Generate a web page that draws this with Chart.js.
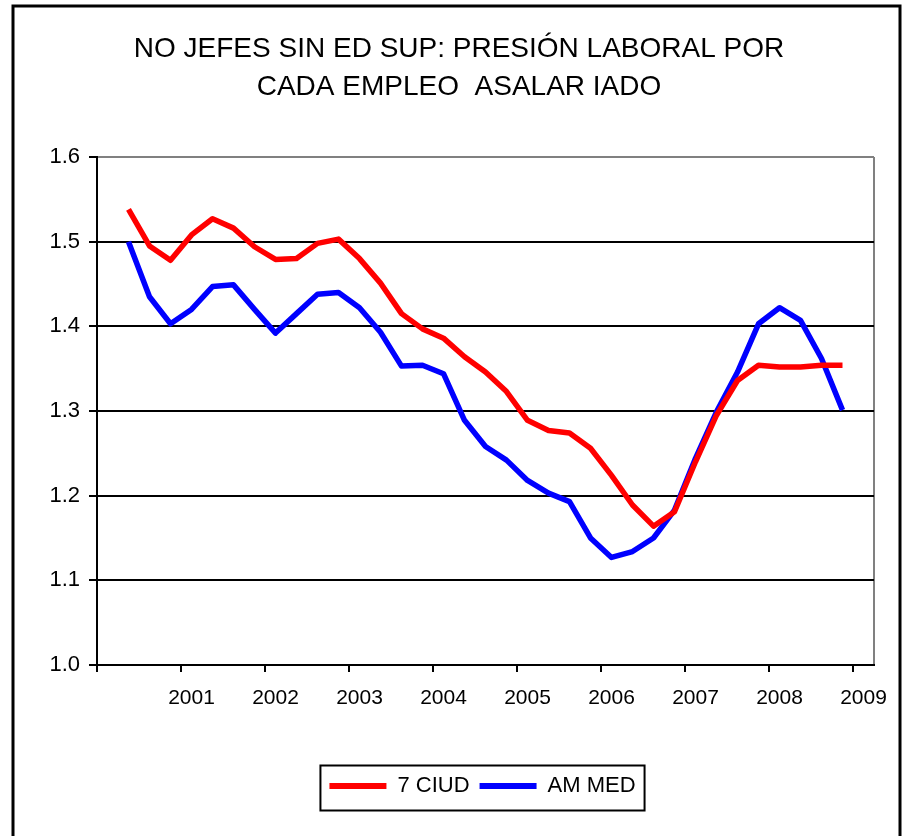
<!DOCTYPE html>
<html>
<head>
<meta charset="utf-8">
<script src="https://cdn.jsdelivr.net/npm/chart.js@4.4.1/dist/chart.umd.min.js"></script>
<style>
  html, body { margin: 0; padding: 0; background: #fff; }
  #wrap { width: 903px; height: 836px; position: relative; }
</style>
</head>
<body>
<div id="wrap"><canvas id="chart"></canvas></div>
<script>
// Categorías trimestrales (etiqueta solo en el primer trimestre de cada año)
const xLabels = ['', '', '', '', '2001', '', '', '', '2002', '', '', '', '2003', '', '', '', '2004', '', '', '',
                 '2005', '', '', '', '2006', '', '', '', '2007', '', '', '', '2008', '', '', '', '2009'];

// 7 ciudades
const ciud7 = [null, 1.538, 1.495, 1.478, 1.508, 1.527, 1.516, 1.494, 1.479, 1.480, 1.498, 1.503, 1.480,
               1.451, 1.415, 1.397, 1.386, 1.364, 1.346, 1.323, 1.289, 1.277, 1.274, 1.256, 1.224,
               1.189, 1.164, 1.181, 1.240, 1.295, 1.336, 1.354, 1.352, 1.352, 1.354, 1.354, null];

// Área metropolitana de Medellín
const amMed = [null, 1.500, 1.435, 1.403, 1.420, 1.447, 1.449, 1.420, 1.392, 1.415, 1.438, 1.440, 1.422,
               1.393, 1.353, 1.354, 1.344, 1.289, 1.258, 1.242, 1.218, 1.203, 1.193, 1.150, 1.127,
               1.134, 1.150, 1.183, 1.244, 1.299, 1.346, 1.403, 1.422, 1.407, 1.362, 1.301, null];

const seriesNames = ['7 CIUD', 'AM MED'];
const titleLines = ['NO JEFES SIN ED SUP: PRESIÓN LABORAL POR', 'CADA EMPLEO  ASALAR IADO'];

const FONT = "'Liberation Sans', Arial, sans-serif";

// Marco exterior y recuadro de la leyenda
const framePlugin = {
    id: 'frame',
    afterLayout(chart) {
        // la leyenda del original está un poco a la izquierda del centro del área
        chart.legend.left -= 3;
        chart.legend.right -= 3;
    },
    afterDraw(chart) {
        const ctx = chart.ctx;
        ctx.save();
        ctx.strokeStyle = '#000';
        ctx.lineWidth = 3;
        ctx.strokeRect(13, 6, 887, 900);

        const boxes = chart.legend.legendHitBoxes;
        if (boxes && boxes.length) {
            const first = boxes[0];
            const last = boxes[boxes.length - 1];
            const left = first.left - 9;
            const right = last.left + last.width + 9;
            const top = first.top - 9.5;
            const bottom = first.top + first.height + 13.5;
            ctx.lineWidth = 2;
            ctx.strokeRect(left, top, right - left, bottom - top);
        }
        ctx.restore();
    }
};

const ctx = document.getElementById('chart').getContext('2d');

new Chart(ctx, {
    type: 'line',
    data: {
        labels: xLabels,
        datasets: [{
            label: seriesNames[0],
            data: ciud7,
            borderColor: '#FF0000',
            backgroundColor: '#FF0000',
            borderWidth: 5.5,
            pointRadius: 0,
            tension: 0,
            borderJoinStyle: 'round'
        }, {
            label: seriesNames[1],
            data: amMed,
            borderColor: '#0000FF',
            backgroundColor: '#0000FF',
            borderWidth: 5.5,
            pointRadius: 0,
            tension: 0,
            borderJoinStyle: 'round'
        }]
    },
    options: {
        responsive: true,
        maintainAspectRatio: false,
        animation: false,
        layout: {
            padding: { left: 44, right: 29, top: 0, bottom: 29 }
        },
        plugins: {
            title: {
                display: true,
                text: titleLines,
                color: '#000',
                font: { family: FONT, size: 28, weight: 'normal', lineHeight: 1.357 },
                padding: { top: 30, bottom: 51 }
            },
            legend: {
                position: 'bottom',
                fullSize: false,
                labels: {
                    color: '#000',
                    font: { family: FONT, size: 22 },
                    boxWidth: 57,
                    boxHeight: 6,
                    padding: 10,
                    generateLabels: function(chart) {
                        return chart.data.datasets.map((ds, i) => ({
                            text: ds.label,
                            fillStyle: ds.borderColor,
                            strokeStyle: ds.borderColor,
                            lineWidth: 0,
                            hidden: false,
                            datasetIndex: i
                        }));
                    }
                }
            },
            tooltip: { enabled: false }
        },
        scales: {
            x: {
                type: 'category',
                offset: true,
                afterFit: function(scale) { scale.height = 100; },
                border: { display: true, color: '#000', width: 2 },
                grid: {
                    offset: true,
                    drawOnChartArea: true,
                    tickLength: 7,
                    lineWidth: 2,
                    tickWidth: 2,
                    color: function(c) {
                        return c.index === undefined ? '#808080' : 'rgba(0,0,0,0)';
                    },
                    tickColor: function(c) {
                        return (c.index !== undefined && c.index % 4 === 0) ? '#000' : 'rgba(0,0,0,0)';
                    }
                },
                ticks: {
                    autoSkip: false,
                    maxRotation: 0,
                    minRotation: 0,
                    padding: 14,
                    color: '#000',
                    font: { family: FONT, size: 21 }
                }
            },
            y: {
                min: 1.0,
                max: 1.6,
                afterFit: function(scale) { scale.width = 53; },
                border: { display: true, color: '#000', width: 2 },
                grid: {
                    lineWidth: 2,
                    tickLength: 8,
                    tickWidth: 2,
                    tickColor: '#000',
                    color: function(c) {
                        return (c.tick && Math.abs(c.tick.value - 1.6) < 1e-6) ? '#808080' : '#000';
                    }
                },
                ticks: {
                    stepSize: 0.1,
                    padding: 9,
                    color: '#000',
                    font: { family: FONT, size: 22 },
                    callback: function(v) { return Number(v).toFixed(1); }
                }
            }
        }
    },
    plugins: [framePlugin]
});
</script>
</body>
</html>
